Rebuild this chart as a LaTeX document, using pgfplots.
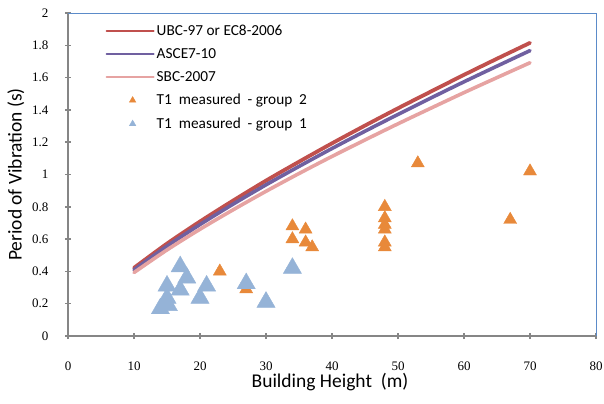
\documentclass[border=0pt]{standalone}
\usepackage{fontspec}
\setmainfont{Liberation Serif}
\newfontfamily\calibri{Carlito}
\usepackage{pgfplots}
\usepackage{pgfplotstable}
\pgfplotsset{compat=1.18}

\definecolor{ubcred}{HTML}{C0504D}
\definecolor{ascepurple}{HTML}{7060A0}
\definecolor{sbcpink}{HTML}{E6A3A2}
\definecolor{grptwo}{HTML}{E8893A}
\definecolor{grpone}{HTML}{95B3D7}
\definecolor{axisgray}{HTML}{868686}
\definecolor{frameblue}{HTML}{5B8BC9}

% code periods
\pgfplotstableread{
H   ubc    asce   sbc
10  0.422  0.410  0.393
15  0.572  0.556  0.533
20  0.709  0.690  0.661
25  0.838  0.816  0.781
30  0.962  0.936  0.896
35  1.079  1.050  1.006
40  1.193  1.161  1.112
45  1.303  1.268  1.214
50  1.410  1.372  1.314
55  1.514  1.474  1.411
60  1.617  1.574  1.507
65  1.717  1.671  1.600
70  1.815  1.767  1.692
}\codes

% measured, group 2
\pgfplotstableread{
H   T
23  0.40
27  0.29
34  0.68
34  0.60
36  0.66
36  0.58
37  0.55
48  0.80
48  0.73
48  0.69
48  0.66
48  0.58
48  0.55
53  1.07
67  0.72
70  1.02
}\grouptwo

% measured, group 1
\pgfplotstableread{
H    T
14   0.17
15.2 0.19
15   0.235
15   0.31
17   0.285
17   0.43
18   0.36
20   0.235
21   0.31
27   0.325
30   0.21
34   0.42
}\groupone

\begin{document}
\begin{tikzpicture}
\begin{axis}[
    scale only axis,
    width=528pt, height=323pt,
    xmin=0, xmax=80, ymin=0, ymax=2,
    xtick={0,10,20,30,40,50,60,70,80},
    ytick={0,0.2,0.4,0.6,0.8,1,1.2,1.4,1.6,1.8,2},
    axis x line*=bottom, axis y line*=left,
    axis line style={axisgray, line width=1.5pt, -},
    tick align=center, major tick length=6pt,
    tick style={axisgray, line width=1.5pt},
    /pgf/number format/assume math mode=true,
    ticklabel style={font=\fontsize{13}{15}\selectfont},
    yticklabel style={xshift=-13pt},
    xticklabel style={yshift=-19pt},
    xlabel={Building Height~ (m)},
    ylabel={Period of Vibration (s)},
    label style={font=\calibri\fontsize{19.5}{22}\selectfont},
    xlabel style={yshift=4pt, xshift=-2pt},
    ylabel style={yshift=1pt},
    clip=false,
    legend cell align=left,
    legend style={draw=none, fill=none, at={(0.065,0.975)}, anchor=north west,
        font=\calibri\fontsize{15.3}{17}\selectfont, row sep=7.4pt},
    leglinestyle/.style={legend image code/.code={\draw[##1, line width=2.2pt] (0pt,0pt) -- (47pt,0pt);}},
    legmarkstyle/.style={legend image code/.code={\draw[##1, mark size=3.8pt] plot coordinates {(26pt,0pt)};}},
]
\draw[frameblue, line width=0.8pt] (rel axis cs:0,1) -- (rel axis cs:1,1) -- (rel axis cs:1,0);

\addplot[ubcred, line width=3.8pt, line cap=round, smooth, no marks, leglinestyle] table[x=H, y=ubc] {\codes};
\addlegendentry{UBC-97 or EC8-2006}
\addplot[ascepurple, line width=3.6pt, line cap=round, smooth, no marks, leglinestyle] table[x=H, y=asce] {\codes};
\addlegendentry{ASCE7-10}
\addplot[sbcpink, line width=3.6pt, line cap=round, smooth, no marks, leglinestyle] table[x=H, y=sbc] {\codes};
\addlegendentry{SBC-2007}

\addplot[only marks, mark=triangle*, mark size=7.5pt, color=grptwo, fill=grptwo, legmarkstyle] table[x=H, y=T] {\grouptwo};
\addlegendentry{T1~ measured~ - group~ 2}
\addplot[only marks, mark=triangle*, mark size=10.5pt, color=grpone, fill=grpone, legmarkstyle] table[x=H, y=T] {\groupone};
\addlegendentry{T1~ measured~ - group~ 1}
\end{axis}
\pgfresetboundingbox
\path ([shift={(-68pt,-67pt)}]current axis.south west) rectangle ([shift={(8pt,13pt)}]current axis.north east);
\end{tikzpicture}
\end{document}
